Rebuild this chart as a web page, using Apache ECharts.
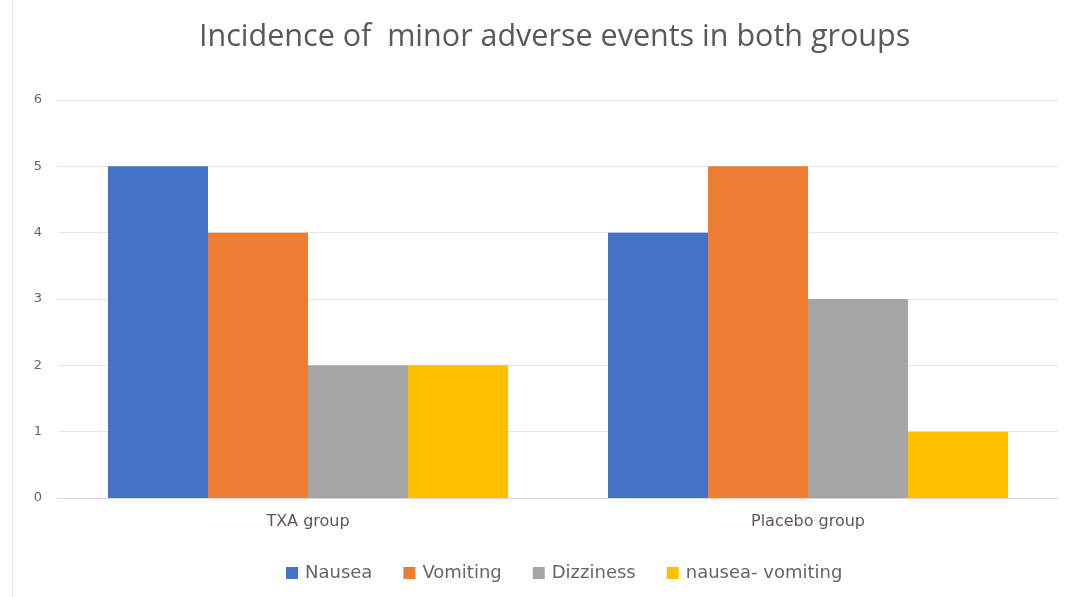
<!DOCTYPE html>
<html>
<head>
<meta charset="utf-8">
<script src="https://cdn.jsdelivr.net/npm/echarts@6/dist/echarts.min.js"></script>
<style>
  html, body { margin: 0; padding: 0; background: #fff; }
  #chart { width: 1077px; height: 597px; }
  #edge { position: absolute; left: 12px; top: 0; width: 1px; height: 597px; background: #e4e4e4; }
</style>
</head>
<body>
<div id="edge"></div>
<div id="chart"></div>
<script>
const groups = ['TXA group', 'Placebo group'];
const nausea = [5, 4];
const vomiting = [4, 5];
const dizziness = [2, 3];
const nauseaVomiting = [2, 1];
const yTicks = [0, 1, 2, 3, 4, 5, 6];

const chart = echarts.init(document.getElementById('chart'));

const bar = (name, data, color) => ({
  name,
  type: 'bar',
  data,
  barGap: 0,
  barCategoryGap: '20%',
  itemStyle: { color }
});

chart.setOption({
  animation: false,
  textStyle: { fontFamily: '"DejaVu Sans", "Open Sans", sans-serif' },
  title: {
    text: 'Incidence of  minor adverse events in both groups',
    left: 194,
    top: 17,
    textStyle: { fontFamily: '"Open Sans", sans-serif', fontSize: 30.5, fontWeight: 'normal', color: '#595959' }
  },
  legend: {
    top: 559,
    left: 281,
    itemWidth: 12,
    itemHeight: 12,
    itemGap: 31,
    icon: 'rect',
    textStyle: { fontSize: 18, color: '#666666', padding: [0, 0, 0, 2] },
    data: ['Nausea', 'Vomiting', 'Dizziness', 'nausea- vomiting']
  },
  grid: { left: 58, right: 19, top: 100, bottom: 99 },
  xAxis: {
    type: 'category',
    data: groups,
    axisTick: { show: false },
    axisLine: { lineStyle: { color: '#d9d9d9' } },
    axisLabel: { color: '#595959', fontSize: 16, margin: 16 }
  },
  yAxis: {
    type: 'value',
    min: yTicks[0],
    max: yTicks[yTicks.length - 1],
    interval: 1,
    axisLine: { show: false },
    axisTick: { show: false },
    axisLabel: { color: '#666666', fontSize: 13, margin: 16 },
    splitLine: { lineStyle: { color: '#e6e6e6' } }
  },
  series: [
    bar('Nausea', nausea, '#4472C4'),
    bar('Vomiting', vomiting, '#ED7D31'),
    bar('Dizziness', dizziness, '#A5A5A5'),
    bar('nausea- vomiting', nauseaVomiting, '#FFC000')
  ]
});
</script>
</body>
</html>
